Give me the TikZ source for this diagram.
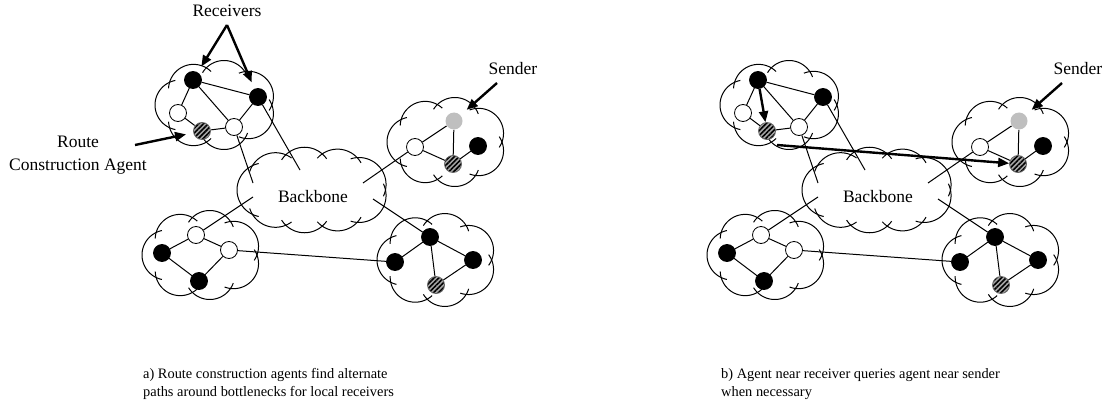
\documentclass[tikz,border=0pt]{standalone}
\usepackage{fontspec}
\setmainfont{Liberation Serif}
\usetikzlibrary{arrows.meta,patterns.meta}
\tikzset{
  >={Triangle[length=11pt,width=9pt]},
  host/.style={circle,minimum size=17pt,inner sep=0pt,draw=black,line width=.8pt},
  rcv/.style={host,fill=black},
  rtr/.style={host,fill=white},
  agent/.style={host,draw=black!60,preaction={fill=black!35},
    pattern={Lines[angle=45,distance=3.4pt,line width=1.6pt]}},
  src/.style={host,draw=none,fill=black!25},
  link/.style={line width=1pt},
  cloud line/.style={line width=1pt},
  pointer/.style={->,line width=2.4pt},
  tag/.style={font=\fontsize{17.5}{23}\selectfont,inner sep=0pt},
  capt/.style={font=\fontsize{14.4}{18}\selectfont,align=left,inner sep=0pt,anchor=north west},
}

% cloud of open puffs: centre x, centre y, x radius, y radius, puffs, puff radius, turn
% each puff is cut where it meets its neighbours and runs on a little past them
\newcommand{\puffcloud}[7]{%
  \foreach \k in {1,...,#5}{%
    \pgfmathsetmacro{\pufa}{360*\k/#5+#7}
    \pgfmathsetmacro{\pufb}{\pufa-360/#5}
    \pgfmathsetmacro{\pufc}{\pufa+360/#5}
    \pgfmathsetmacro{\pufax}{(#3-#6)*cos(\pufa)}
    \pgfmathsetmacro{\pufay}{(#4-#6)*sin(\pufa)}
    \pgfmathsetmacro{\pufbx}{(#3-#6)*cos(\pufb)-\pufax}
    \pgfmathsetmacro{\pufby}{(#4-#6)*sin(\pufb)-\pufay}
    \pgfmathsetmacro{\pufcx}{(#3-#6)*cos(\pufc)-\pufax}
    \pgfmathsetmacro{\pufcy}{(#4-#6)*sin(\pufc)-\pufay}
    \pgfmathsetmacro{\pufs}{atan2(\pufby,\pufbx)+acos(min(veclen(\pufbx,\pufby)/(2*#6),1))-14}
    \pgfmathsetmacro{\pufe}{atan2(\pufcy,\pufcx)-acos(min(veclen(\pufcx,\pufcy)/(2*#6),1))+14}
    \pgfmathsetmacro{\pufe}{\pufs+mod(\pufe-\pufs+720,360)}
    \draw[cloud line] plot[smooth,domain=\pufs:\pufe,samples=30]
      ({#1+\pufax+#6*cos(\x)},{#2+\pufay+#6*sin(\x)});
  }%
}

% the four sites around the backbone
\newcommand{\network}{%
  \puffcloud{216}{105}{61}{45}{7}{25}{25.7}
  \puffcloud{447}{142}{60}{45}{7}{25}{25.7}
  \puffcloud{202}{255}{60}{45}{7}{25}{25.7}
  \puffcloud{437}{260}{60}{47}{7}{25}{25.7}
  \puffcloud{313}{190}{76}{43}{9}{27}{20}
  \node[tag,anchor=base] (bb) at (313,202) {Backbone};
  % receiver site
  \node[rcv] (tl) at (193,80) {};
  \node[rcv] (tr) at (258,97) {};
  \node[rtr] (wl) at (178,113) {};
  \node[agent] (ah) at (202,131) {};
  \node[rtr] (wr) at (234,127) {};
  % sender site
  \node[src] (snd) at (454,121) {};
  \node[rtr] (bw) at (415,147) {};
  \node[agent] (bh) at (453,164) {};
  \node[rcv] (bk) at (478,146) {};
  % lower left site
  \node[rtr] (cw) at (196,235) {};
  \node[rtr] (cr) at (229,250) {};
  \node[rcv] (cl) at (162,253) {};
  \node[rcv] (cb) at (199,281) {};
  % lower right site
  \node[rcv] (dt) at (430,237) {};
  \node[rcv] (dl) at (395,262) {};
  \node[rcv] (dr) at (473,260) {};
  \node[agent] (dh) at (436,285) {};
  % where the uplinks stop inside the backbone
  \coordinate (up1) at (253,183);
  \coordinate (up2) at (300,170);
  \coordinate (up3) at (363,183);
  \coordinate (up4) at (253,197);
  \coordinate (up5) at (373,199);
  \draw[link] (tl) -- (tr) (tl) -- (wl) (tl) -- (wr) (wl) -- (ah) (ah) -- (wr) (wr) -- (tr);
  \draw[link] (snd) -- (bw) (snd) -- (bh) (bw) -- (bh) (bh) -- (bk);
  \draw[link] (cl) -- (cw) (cw) -- (cr) (cr) -- (cb) (cl) -- (cb);
  \draw[link] (dt) -- (dl) (dt) -- (dr) (dt) -- (dh) (dh) -- (dr);
  \draw[link] (wr) -- (up1) (tr) -- (up2) (bw) -- (up3) (cw) -- (up4) (dt) -- (up5);
  \draw[link] (cr) -- (dl);
}

\begin{document}
\begin{tikzpicture}[x=1pt,y=-1pt]
  \useasboundingbox (0,0) rectangle (1107,409);

  % a) local route construction
  \begin{scope}[name prefix=a-]
    \network
  \end{scope}
  \node[tag,anchor=base] (recv) at (227,17) {Receivers};
  \coordinate (fork) at (227,25);
  \draw[pointer,shorten >=7pt] (fork) -- (a-tl);
  \draw[pointer,shorten >=7pt] (fork) -- (a-tr);
  \node[tag,anchor=base] (snda) at (513,75) {Sender};
  \coordinate (sndtaila) at (497,83);
  \draw[pointer,shorten >=8pt] (sndtaila) -- (a-snd);
  \node[tag,align=center,anchor=north] (rca) at (78,136) {Route\\Construction Agent};
  \coordinate (rcatail) at (135,145);
  \draw[pointer,shorten >=7pt] (rcatail) -- (a-ah);
  \node[capt] (capa) at (143,368)
    {a) Route construction agents find alternate\\paths around bottlenecks for local receivers};

  % b) query towards the sender side
  \begin{scope}[xshift=565pt,name prefix=b-]
    \network
  \end{scope}
  \node[tag,anchor=base] (sndb) at (1078,75) {Sender};
  \coordinate (sndtailb) at (1062,83);
  \draw[pointer,shorten >=8pt] (sndtailb) -- (b-snd);
  \draw[pointer] (b-tl) -- (b-ah);
  \coordinate (qtail) at (777,145);
  \draw[pointer] (qtail) -- (b-bh);
  \node[capt] (capb) at (721,368)
    {b) Agent near receiver queries agent near sender\\when necessary};
\end{tikzpicture}
\end{document}
